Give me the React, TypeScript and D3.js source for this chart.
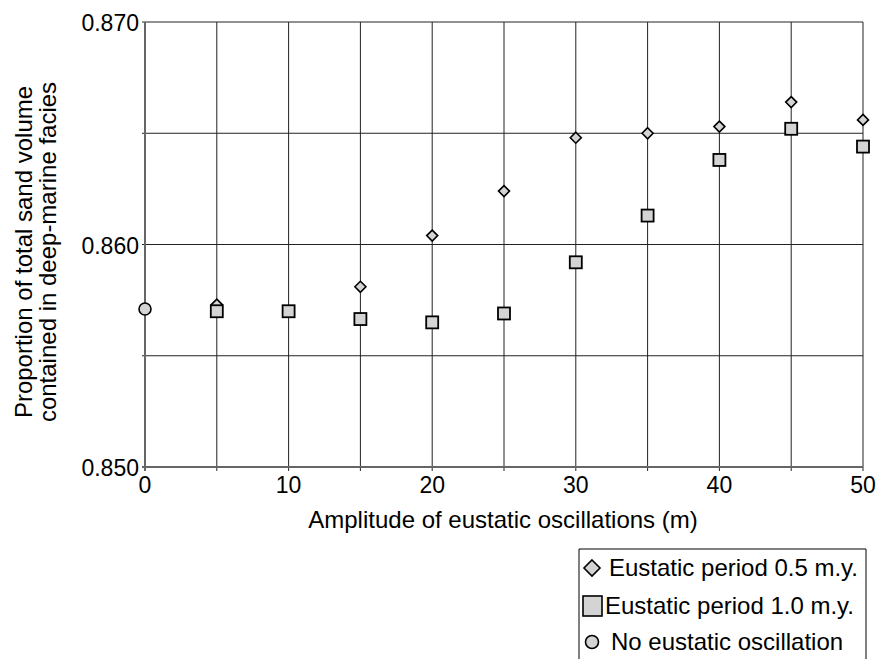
import { useEffect, useRef } from 'react';
import * as d3 from 'd3';

// amplitude of eustatic oscillations (m)
const amplitudes = [5, 10, 15, 20, 25, 30, 35, 40, 45, 50];
const diamondAmps = [5, 15, 20, 25, 30, 35, 40, 45, 50];
const period05 = [0.8573, 0.8581, 0.8604, 0.8624, 0.8648, 0.865, 0.8653, 0.8664, 0.8656];
const period10 = [0.857, 0.857, 0.85665, 0.8565, 0.8569, 0.8592, 0.8613, 0.8638, 0.8652, 0.8644];
const noOscAmp = [0];
const noOsc = [0.8571];

const xTicks = [0, 10, 20, 30, 40, 50];
const xGrid = [0, 5, 10, 15, 20, 25, 30, 35, 40, 45, 50];
const yTicks = [0.85, 0.86, 0.87];
const yGrid = [0.855, 0.86, 0.865, 0.87];

const legendLabels = ['Eustatic period 0.5 m.y.', 'Eustatic period 1.0 m.y.', 'No eustatic oscillation'];

const FILL = '#d4d4d4';
const FONT = "'Liberation Sans', Arial, sans-serif";

export default function App() {
  const ref = useRef<SVGSVGElement>(null);

  useEffect(() => {
    const svg = d3.select(ref.current);
    svg.selectAll('*').remove();

    const left = 145, right = 863, top = 22, bottom = 467;
    const x = d3.scaleLinear().domain([0, 50]).range([left, right]);
    const y = d3.scaleLinear().domain([0.85, 0.87]).range([bottom, top]);

    const g = svg.append('g');

    // grid
    g.selectAll('.vgrid')
      .data(xGrid)
      .enter()
      .append('line')
      .attr('x1', d => x(d))
      .attr('x2', d => x(d))
      .attr('y1', top)
      .attr('y2', bottom + 4)
      .attr('stroke', '#222')
      .attr('stroke-width', 1);

    g.selectAll('.hgrid')
      .data(yGrid)
      .enter()
      .append('line')
      .attr('x1', left - 3)
      .attr('x2', right)
      .attr('y1', d => y(d))
      .attr('y2', d => y(d))
      .attr('stroke', '#222')
      .attr('stroke-width', 1);

    // axes lines
    g.append('line')
      .attr('x1', left).attr('x2', left)
      .attr('y1', top).attr('y2', bottom + 4)
      .attr('stroke', '#666').attr('stroke-width', 2);
    g.append('line')
      .attr('x1', left - 3).attr('x2', right)
      .attr('y1', bottom).attr('y2', bottom)
      .attr('stroke', '#666').attr('stroke-width', 2);

    // tick labels
    g.selectAll('.xlab')
      .data(xTicks)
      .enter()
      .append('text')
      .attr('x', d => x(d))
      .attr('y', bottom + 26)
      .attr('text-anchor', 'middle')
      .attr('font-family', FONT)
      .attr('font-size', 23)
      .text(d => d);

    g.selectAll('.ylab')
      .data(yTicks)
      .enter()
      .append('text')
      .attr('x', left - 6)
      .attr('y', d => y(d) + 9)
      .attr('text-anchor', 'end')
      .attr('font-family', FONT)
      .attr('font-size', 23)
      .text(d => d3.format('.3f')(d));

    // axis titles
    g.append('text')
      .attr('x', 503)
      .attr('y', 528)
      .attr('text-anchor', 'middle')
      .attr('font-family', FONT)
      .attr('font-size', 24)
      .text('Amplitude of eustatic oscillations (m)');

    const yt = g.append('text')
      .attr('transform', `translate(0, 252) rotate(-90)`)
      .attr('text-anchor', 'middle')
      .attr('font-family', FONT)
      .attr('font-size', 24);
    yt.append('tspan').attr('x', 0).attr('y', 32).text('Proportion of total sand volume');
    yt.append('tspan').attr('x', 0).attr('y', 56).text('contained in deep-marine facies');

    // markers
    const diamond = (cx: number, cy: number, r: number) =>
      `M${cx},${cy - r}L${cx + r},${cy}L${cx},${cy + r}L${cx - r},${cy}Z`;

    g.selectAll('.dia')
      .data(diamondAmps.map((a, i) => ({ a, v: period05[i] })))
      .enter()
      .append('path')
      .attr('d', d => diamond(x(d.a), y(d.v), 5.5))
      .attr('fill', FILL)
      .attr('stroke', '#000')
      .attr('stroke-width', 1.6);

    g.selectAll('.sq')
      .data(amplitudes.map((a, i) => ({ a, v: period10[i] })))
      .enter()
      .append('rect')
      .attr('x', d => x(d.a) - 6)
      .attr('y', d => y(d.v) - 6)
      .attr('width', 12)
      .attr('height', 12)
      .attr('fill', FILL)
      .attr('stroke', '#000')
      .attr('stroke-width', 1.8);

    g.selectAll('.circ')
      .data(noOscAmp.map((a, i) => ({ a, v: noOsc[i] })))
      .enter()
      .append('circle')
      .attr('cx', d => x(d.a))
      .attr('cy', d => y(d.v))
      .attr('r', 6)
      .attr('fill', FILL)
      .attr('stroke', '#000')
      .attr('stroke-width', 1.6);

    // legend (box open at bottom, cut by page edge)
    const lx = 579, ly = 549, lw = 287;
    svg.append('path')
      .attr('d', `M${lx},670V${ly}H${lx + lw}V670`)
      .attr('fill', 'none')
      .attr('stroke', '#000')
      .attr('stroke-width', 1);

    const rowY = [568, 606, 642];
    svg.append('path')
      .attr('d', diamond(592, rowY[0], 8))
      .attr('fill', FILL).attr('stroke', '#000').attr('stroke-width', 1.6);
    svg.append('rect')
      .attr('x', 583).attr('y', rowY[1] - 10).attr('width', 19).attr('height', 20)
      .attr('fill', FILL).attr('stroke', '#000').attr('stroke-width', 1.6);
    svg.append('circle')
      .attr('cx', 592).attr('cy', rowY[2]).attr('r', 6.5)
      .attr('fill', FILL).attr('stroke', '#000').attr('stroke-width', 1.6);

    const textX = [609, 605, 611];
    svg.selectAll('.leg')
      .data(legendLabels)
      .enter()
      .append('text')
      .attr('x', (d, i) => textX[i])
      .attr('y', (d, i) => rowY[i] + 8)
      .attr('font-family', FONT)
      .attr('font-size', 24)
      .text(d => d);
  }, []);

  return (
    <svg
      ref={ref}
      width={879}
      height={659}
      style={{ position: 'absolute', top: 0, left: 0, background: '#fff' }}
    />
  );
}
